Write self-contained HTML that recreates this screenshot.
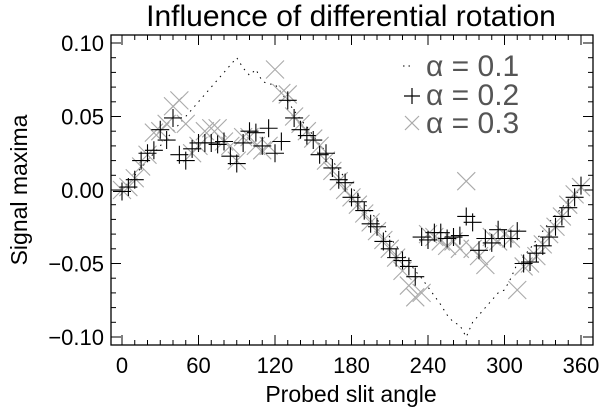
<!DOCTYPE html>
<html><head><meta charset="utf-8"><style>
body{margin:0;background:#fff;}
svg{display:block;font-family:"Liberation Sans",Arial,sans-serif;}
</style></head><body>
<svg id="chart" width="600" height="409">
<text x="351" y="26" font-size="30" text-anchor="middle" fill="#000">Influence of differential rotation</text>
<rect x="111" y="35" width="482" height="310" fill="none" stroke="#000" stroke-width="1.3"/>
<g id="axes"></g>
<g id="series"></g>
<text x="351" y="402" font-size="23" text-anchor="middle">Probed slit angle</text>
<text transform="translate(27,190) rotate(-90)" font-size="23" text-anchor="middle">Signal maxima</text>
<g font-size="30" fill="#555">
 <g>
  <line x1="403" y1="66" x2="413" y2="66" stroke="#000" stroke-dasharray="1.5,4"/>
  <text x="426" y="76" fill="#555">α = 0.1</text></g>
 <g>
  <path d="M404,96h16M412,88v16" stroke="#000" stroke-width="1.2"/>
  <text x="426" y="105" fill="#555">α = 0.2</text></g>
 <g>
  <path d="M405,116l14,14M419,116l-14,14" stroke="#aaa" stroke-width="1.2"/>
  <text x="426" y="133" fill="#555">α = 0.3</text></g>
</g>
</svg>
<script>
const angles=[0,5,10,15,20,25,30,35,40,45,50,55,60,65,70,75,80,85,90,95,100,105,110,115,120,125,130,135,140,145,150,155,160,165,170,175,180,185,190,195,200,205,210,215,220,225,230,235,240,245,250,255,260,265,270,275,280,285,290,295,300,305,310,315,320,325,330,335,340,345,350,355,360];
const alpha01=[0,0.005,0.01,0.015,0.02,0.025,0.03,0.035,0.04,0.045,0.05,0.055,0.06,0.065,0.07,0.075,0.08,0.085,0.09,0.083,0.078,0.082,0.074,0.072,0.072,0.066,0.06,0.054,0.048,0.043,0.037,0.031,0.026,0.02,0.014,0.008,0.002,-0.003,-0.009,-0.015,-0.02,-0.026,-0.032,-0.038,-0.043,-0.049,-0.055,-0.06,-0.066,-0.072,-0.078,-0.085,-0.09,-0.092,-0.1,-0.09,-0.085,-0.08,-0.075,-0.07,-0.068,-0.06,-0.05,-0.045,-0.04,-0.034,-0.028,-0.022,-0.017,-0.012,-0.007,-0.003,0];
const alpha02=[-0.001,0.002,0.007,0.02,0.025,0.027,0.041,0.034,0.049,0.024,0.02,0.028,0.032,0.032,0.032,0.031,0.033,0.023,0.018,0.032,0.04,0.039,0.03,0.042,0.025,0.033,0.061,0.049,0.041,0.037,0.034,0.024,0.025,0.015,0.007,0.005,-0.005,-0.008,-0.014,-0.023,-0.025,-0.035,-0.04,-0.046,-0.048,-0.052,-0.059,-0.032,-0.034,-0.029,-0.029,-0.033,-0.032,-0.031,-0.018,-0.022,-0.041,-0.033,-0.036,-0.027,-0.033,-0.033,-0.028,-0.05,-0.049,-0.043,-0.038,-0.032,-0.025,-0.018,-0.012,-0.005,0.003];
const alpha03=[0,0.002,0.008,0.016,0.024,0.039,0.04,0.045,0.057,0.061,0.045,0.025,0.03,0.04,0.042,0.042,0.033,0.03,0.02,0.036,0.036,0.03,0.027,0.03,0.082,0.066,0.065,0.05,0.045,0.04,0.035,0.03,0.02,0.013,0.006,0,-0.005,-0.01,-0.016,-0.022,-0.028,-0.034,-0.04,-0.046,-0.055,-0.065,-0.073,-0.07,-0.03,-0.032,-0.035,-0.038,-0.035,-0.04,0.006,-0.04,-0.045,-0.051,-0.032,-0.035,-0.03,-0.033,-0.068,-0.052,-0.05,-0.045,-0.037,-0.03,-0.025,-0.018,-0.01,-0.003,0.002];
const xTicks=[0,60,120,180,240,300,360];
const yTicks=[0.10,0.05,0.00,-0.05,-0.10];
const yTickLabels=["0.10","0.05","0.00","\u22120.05","\u22120.10"];
const X=a=>122+a*1.275;
const Y=v=>190-v*1470;
const NS="http://www.w3.org/2000/svg";
const axes=document.getElementById('axes'),ser=document.getElementById('series');
function mk(tag,attrs,parent){const e=document.createElementNS(NS,tag);for(const k in attrs)e.setAttribute(k,attrs[k]);parent.appendChild(e);return e;}
for(let a=0;a<=360;a+=10){const big=a%60===0;const l=big?10:5;
 const t1=mk('line',{x1:X(a),x2:X(a),y1:345,y2:345-l,stroke:'#000'},axes);
 
 
 const t2=mk('line',{x1:X(a),x2:X(a),y1:35,y2:35+l,stroke:'#000'},axes);
 
 }
xTicks.forEach(a=>{const t=mk('text',{x:X(a),y:373,'font-size':22,'text-anchor':'middle'},axes);t.textContent=a;
 
 });
for(let i=-10;i<=10;i++){const v=i/100;const big=i%5===0;const l=big?10:5;
 const t1=mk('line',{x1:111,x2:111+l,y1:Y(v),y2:Y(v),stroke:'#000'},axes);
 
 
 const t2=mk('line',{x1:593,x2:593-l,y1:Y(v),y2:Y(v),stroke:'#000'},axes);
 
 }
yTicks.forEach((v,i)=>{const t=mk('text',{x:104,y:Y(v)+8,'font-size':22,'text-anchor':'end'},axes);t.textContent=yTickLabels[i];
 
 });
const line=mk('polyline',{points:angles.map((a,i)=>X(a)+','+Y(alpha01[i])).join(' '),fill:'none',stroke:'#000','stroke-width':1,'stroke-dasharray':'1.5,5'},ser);


angles.forEach((a,i)=>{const x=X(a),y=Y(alpha03[i]),s=9;
 const p=mk('path',{d:`M${x-s},${y-s}L${x+s},${y+s}M${x+s},${y-s}L${x-s},${y+s}`,stroke:'#aaa','stroke-width':1.1,fill:'none'},ser);
 
 });
angles.forEach((a,i)=>{const x=X(a),y=Y(alpha02[i]),s=9;
 const p=mk('path',{d:`M${x-s},${y}L${x+s},${y}M${x},${y-s}L${x},${y+s}`,stroke:'#000','stroke-width':1.1,fill:'none'},ser);
 
 });
</script>
</body></html>
